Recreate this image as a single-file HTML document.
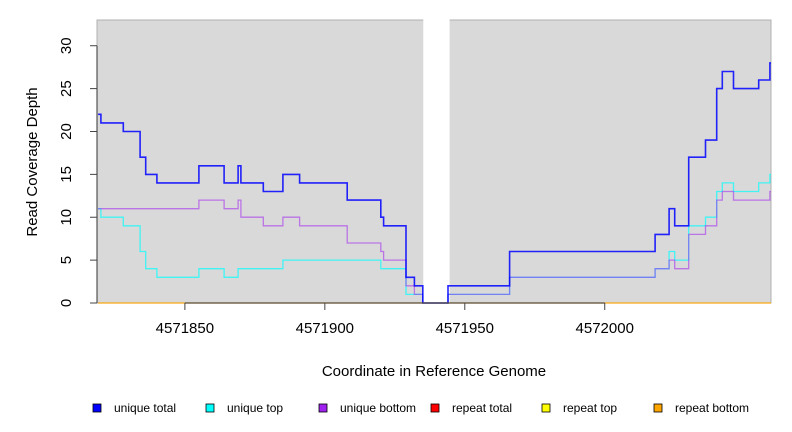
<!DOCTYPE html>
<html><head><meta charset="utf-8"><style>
body{margin:0;background:#fff;}
svg{display:block;font-family:"Liberation Sans",sans-serif;}
</style></head><body>
<svg id="chart" width="792" height="432" viewBox="0 0 792 432" xmlns="http://www.w3.org/2000/svg">
<rect x="97" y="20" width="674" height="283" fill="#d9d9d9" stroke="#b0b0b0" stroke-width="1"/>
<g id="marks"></g>
<g id="axes"></g>
<text x="434" y="376" font-size="15" text-anchor="middle">Coordinate in Reference Genome</text>
<text transform="translate(37,162) rotate(-90)" font-size="15" text-anchor="middle">Read Coverage Depth</text>
<g id="legend"></g>
</svg>
<script>
const stepStarts = [4571819,4571820,4571828,4571834,4571836,4571840,4571855,4571864,4571869,4571870,4571878,4571885,4571891,4571908,4571920,4571921,4571929,4571932,4571935,4571944,4571966,4572018,4572023,4572025,4572030,4572036,4572040,4572042,4572046,4572055,4572059];
const uniqueTotal  = [22,21,20,17,15,14,16,14,16,14,13,15,14,12,10,9,3,2,0,2,6,8,11,9,17,19,25,27,25,26,28];
const uniqueTop    = [11,10,9,6,4,3,4,3,4,4,4,5,5,5,4,4,1,1,0,1,3,4,6,5,9,10,13,14,13,14,15];
const uniqueBottom = [11,11,11,11,11,11,12,11,12,10,9,10,9,7,6,5,2,1,0,1,3,4,5,4,8,9,12,13,12,12,13];
const repeatTotal  = uniqueTotal.map(()=>0);
const xDomain = [4571818.6, 4572059.4];
const yDomain = [0, 33];
const xTicks = [4571850, 4571900, 4571950, 4572000];
const yTicks = [0,5,10,15,20,25,30];
const gapRange = [4571935, 4571944.4];
const legendLabels = ["unique total","unique top","unique bottom","repeat total","repeat top","repeat bottom"];
const legendColors = ["#0000ff","#00ffff","#a020f0","#ff0000","#ffff00","#ffa500"];

const NS="http://www.w3.org/2000/svg";
const X0=97,X1=771,Y0=303,Y1=20;
const xs=v=>X0+(v-xDomain[0])/(xDomain[1]-xDomain[0])*(X1-X0);
const ys=v=>Y0-(v-yDomain[0])/(yDomain[1]-yDomain[0])*(Y0-Y1+0)*1.0;
function mk(t,a,p){const e=document.createElementNS(NS,t);for(const k in a)e.setAttribute(k,a[k]);p.appendChild(e);return e;}
const marks=document.getElementById('marks'), axes=document.getElementById('axes'), leg=document.getElementById('legend');

const gap=mk('rect',{x:xs(gapRange[0])+0.5,y:Y1-1,width:xs(gapRange[1])-xs(gapRange[0]),height:Y0-Y1+1,fill:'#ffffff'},marks);



function stepPath(vals){let d='';for(let i=0;i<vals.length;i++){const x=xs(stepStarts[i]);const x2=i+1<vals.length?xs(stepStarts[i+1]):X1;const y=ys(vals[i]);d+=(i?'L':'M')+x.toFixed(1)+','+y.toFixed(1)+'L'+x2.toFixed(1)+','+y.toFixed(1);}return d;}
function series(vals,color,w,op,name){const p=mk('path',{d:stepPath(vals),fill:'none',stroke:color,'stroke-width':w,'stroke-opacity':op},marks);

}
series(uniqueTop,'#00ffff',1.3,0.7,'unique-top-line');
series(uniqueBottom,'#a020f0',1.3,0.55,'unique-bottom-line');
series(uniqueTotal,'#0000ff',1.6,0.85,'unique-total-line');
series(repeatTotal,'#ffa500',1.3,0.9,'repeat-lines');

mk('line',{x1:X0,y1:Y0,x2:X0,y2:ys(30),stroke:'#333'},axes);
yTicks.forEach(v=>{const y=ys(v);mk('line',{x1:X0-7,y1:y,x2:X0,y2:y,stroke:'#444'},axes);
const t=mk('text',{transform:`translate(${X0-26},${y}) rotate(-90)`,'font-size':15,'text-anchor':'middle',fill:'#000'},axes);t.textContent=v;

});
mk('line',{x1:xs(xTicks[0]),y1:Y0,x2:xs(xTicks[xTicks.length-1]),y2:Y0,stroke:'#333'},axes);
xTicks.forEach(v=>{const x=xs(v);mk('line',{x1:x,y1:Y0,x2:x,y2:Y0+7,stroke:'#444'},axes);
const t=mk('text',{x:x,y:Y0+30,'font-size':15,'text-anchor':'middle'},axes);t.textContent=v;

});

const lx=[93,206,319,431,542,654];
legendLabels.forEach((l,i)=>{const r=mk('rect',{x:lx[i],y:404,width:8,height:8,fill:legendColors[i],stroke:'#000','stroke-width':0.8},leg);


const t=mk('text',{x:lx[i]+21,y:412,'font-size':12},leg);t.textContent=l;

});
</script>
</body></html>
